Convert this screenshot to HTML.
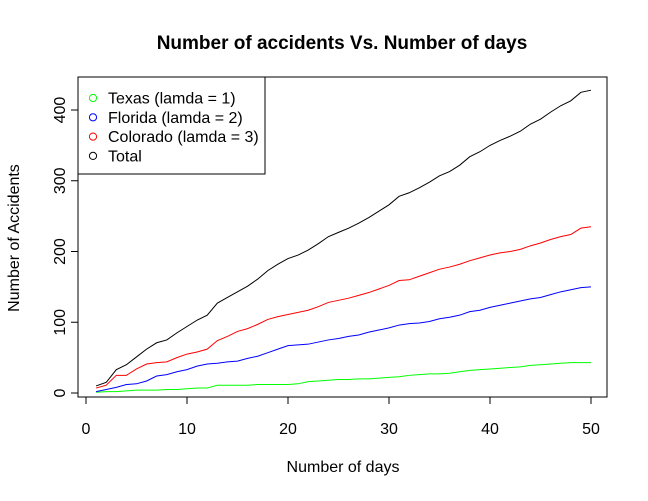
<!DOCTYPE html>
<html><head><meta charset="utf-8"><style>
body{margin:0;background:#fff}
svg text{font-family:"Liberation Sans",Arial,sans-serif;fill:#000}
</style></head><body>
<svg id="chart" width="648" height="496" xmlns="http://www.w3.org/2000/svg">
<text x="342" y="49" font-size="19" font-weight="bold" text-anchor="middle">Number of accidents Vs. Number of days</text>
<rect x="78" y="77" width="529" height="320" fill="none" stroke="#000" stroke-width="1"/>
<g id="xaxis"></g>
<g id="yaxis"></g>
<g id="series"></g>
<text x="343" y="472" font-size="16" text-anchor="middle">Number of days</text>
<text x="19" y="238" font-size="16" text-anchor="middle" transform="rotate(-90 19 238)">Number of Accidents</text>
<g>
<rect x="78" y="77" width="187" height="97" fill="#fff" stroke="#000"/>
<g id="legend-entries"></g>
</g>
</svg>
<script>
const days = Array.from({length:50},(_, i)=>i+1);
const texas = [1,2,2,3,4,4,4,5,5,6,7,7,11,11,11,11,12,12,12,12,13,16,17,18,19,19,20,20,21,22,23,25,26,27,27,28,30,32,33,34,35,36,37,39,40,41,42,43,43,43];
const florida = [2,5,8,12,13,17,24,26,30,33,38,41,42,44,45,49,52,57,62,67,68,69,72,75,77,80,82,86,89,92,96,98,99,101,105,107,110,115,117,121,124,127,130,133,135,139,143,146,149,150];
const colorado = [7,11,25,25,34,41,43,44,50,55,58,62,74,80,87,91,97,104,108,111,114,117,122,128,131,134,138,142,147,152,159,160,165,170,175,178,182,187,191,195,198,200,203,208,212,217,221,224,233,235];
const total = [10,15,33,40,51,62,71,75,85,94,103,110,127,135,143,151,161,173,182,190,195,202,211,221,227,233,240,248,257,266,278,283,290,298,307,313,322,334,341,350,357,363,370,380,387,397,406,413,425,428];
const xTicks = [0,10,20,30,40,50];
const yTicks = [0,100,200,300,400];
const legendLabels = ["Texas (lamda = 1)","Florida (lamda = 2)","Colorado (lamda = 3)","Total"];

const NS="http://www.w3.org/2000/svg";
const xs = v => 86 + v*10.1;
const ys = v => 393 - v*0.7075;
function mk(tag, attrs, parent){const e=document.createElementNS(NS,tag);for(const k in attrs)e.setAttribute(k,attrs[k]);parent.appendChild(e);return e;}

const xa=document.getElementById('xaxis');
mk('line',{x1:xs(0),x2:xs(50),y1:397,y2:397,stroke:'#000'},xa);
xTicks.forEach(t=>{
  const l=mk('line',{x1:xs(t),x2:xs(t),y1:397,y2:404,stroke:'#000'},xa);
  
  
  const tx=mk('text',{x:xs(t),y:434,'font-size':16,'text-anchor':'middle'},xa);
  tx.textContent=t;
  
  
});
const ya=document.getElementById('yaxis');
mk('line',{x1:78,x2:78,y1:ys(0),y2:ys(400),stroke:'#000'},ya);
yTicks.forEach(t=>{
  const l=mk('line',{x1:71,x2:78,y1:ys(t),y2:ys(t),stroke:'#000'},ya);
  
  
  const tx=mk('text',{x:65,y:ys(t),'font-size':16,'text-anchor':'middle',transform:`rotate(-90 65 ${ys(t)})`},ya);
  tx.textContent=t;
  
  
});
const sg=document.getElementById('series');
const series=[[texas,'#00ff00','texas-line'],[florida,'#0000ff','florida-line'],[colorado,'#ff0000','colorado-line'],[total,'#000000','total-line']];
series.forEach(([d,c,n])=>{
  const p=mk('polyline',{points:d.map((v,i)=>xs(days[i])+','+ys(v)).join(' '),fill:'none',stroke:c,'stroke-width':1},sg);
  
  
});
const lg=document.getElementById('legend-entries');
const lcolors=['#00ff00','#0000ff','#ff0000','#000000'];
legendLabels.forEach((lab,i)=>{
  const y=98+i*19.3;
  const g=mk('g',{},lg);
  
  
  mk('circle',{cx:93,cy:y,r:3.6,fill:'none',stroke:lcolors[i]},g);
  const t=mk('text',{x:108,y:y+5.5,'font-size':16},g);
  t.textContent=lab;
});
</script>
</body></html>
